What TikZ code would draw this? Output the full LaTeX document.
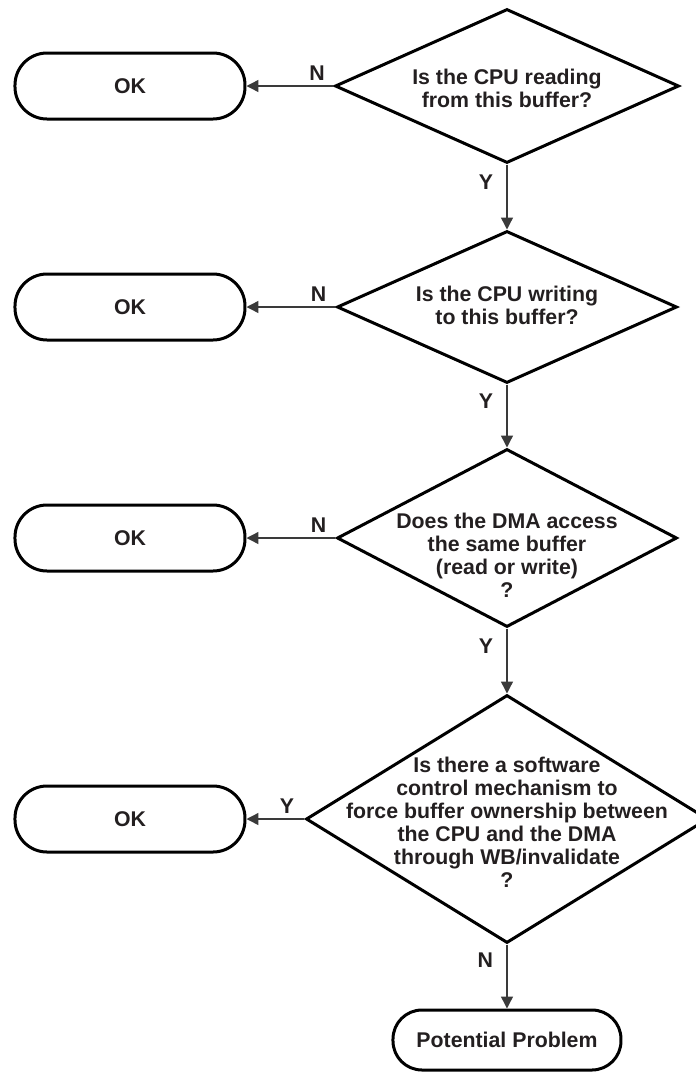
\documentclass[tikz,border=0pt]{standalone}
\usepackage{fontspec}
\setmainfont{Liberation Sans}
\usepackage{tikz}
\usetikzlibrary{shapes.geometric, arrows.meta}
\definecolor{dark}{HTML}{231F20}
\definecolor{wire}{HTML}{3A3A3A}
\newcommand{\flowfont}{\fontsize{21.3}{23}\selectfont\bfseries}
\tikzstyle{endok} = [rectangle, rounded corners=32pt, minimum width=230pt, minimum height=66pt, text centered, line width=3pt, draw=black, text=dark, font=\flowfont]
\tikzstyle{endproblem} = [endok, rounded corners=29pt, minimum width=228pt, minimum height=60pt]
\tikzstyle{decision} = [diamond, inner sep=0pt, line width=3pt, draw=black]
\tikzstyle{question} = [inner sep=0pt, text=dark, font=\flowfont]
\tikzstyle{answer} = [text=dark, font=\flowfont]
\tikzstyle{arrow} = [line width=1.4pt, draw=wire, ->, >={Triangle[length=12pt, width=12pt]}]

\begin{document}
\begin{tikzpicture}[x=1pt, y=1pt, node distance=221pt]

  \useasboundingbox (-507,86) rectangle (189,-986);
  \clip (-507,86) rectangle (189,-986);

  \node (q1) [decision, minimum width=344pt, minimum height=154pt] {};
  \node (q2) [decision, below of=q1, minimum width=340pt, minimum height=152pt] {};
  \node (q3) [decision, below of=q2, yshift=-10pt, minimum width=340pt, minimum height=178pt] {};
  \node (q4) [decision, below of=q3, yshift=-60pt, minimum width=402pt, minimum height=248pt] {};
  \node (problem) [endproblem, below of=q4] {Potential Problem};

  \node (t1) [question, yshift=-5pt] at (q1) {\begin{tabular}{c} Is the CPU reading \\ from this buffer? \end{tabular}};
  \node (t2) [question, yshift=-1pt] at (q2) {\begin{tabular}{c} Is the CPU writing \\ to this buffer? \end{tabular}};
  \node (t3) [question, yshift=-20pt] at (q3) {\begin{tabular}{c} Does the DMA access \\ the same buffer \\ (read or write) \\ ? \end{tabular}};
  \node (t4) [question, yshift=-6pt] at (q4) {\begin{tabular}{c} Is there a software \\ control mechanism to \\ force buffer ownership between \\ the CPU and the DMA \\ through WB/invalidate \\ ? \end{tabular}};

  \node (ok1) [endok, left of=q1, xshift=-156pt] {OK};
  \node (ok2) [endok, left of=q2, xshift=-156pt] {OK};
  \node (ok3) [endok, left of=q3, xshift=-156pt] {OK};
  \node (ok4) [endok, left of=q4, xshift=-156pt] {OK};

  \draw [arrow] (q1) -- node[answer, pos=0.19, above=1pt] {N} (ok1);
  \draw [arrow] (q1) -- node[answer, pos=0.27, left=10pt] {Y} (q2);
  \draw [arrow] (q2) -- node[answer, pos=0.19, above=1pt] {N} (ok2);
  \draw [arrow] (q2) -- node[answer, pos=0.27, left=10pt] {Y} (q3);
  \draw [arrow] (q3) -- node[answer, pos=0.19, above=1pt] {N} (ok3);
  \draw [arrow] (q3) -- node[answer, pos=0.27, left=10pt] {Y} (q4);
  \draw [arrow] (q4) -- node[answer, pos=0.3, above=1pt] {Y} (ok4);
  \draw [arrow] (q4) -- node[answer, pos=0.25, left=10pt] {N} (problem);
\end{tikzpicture}
\end{document}
